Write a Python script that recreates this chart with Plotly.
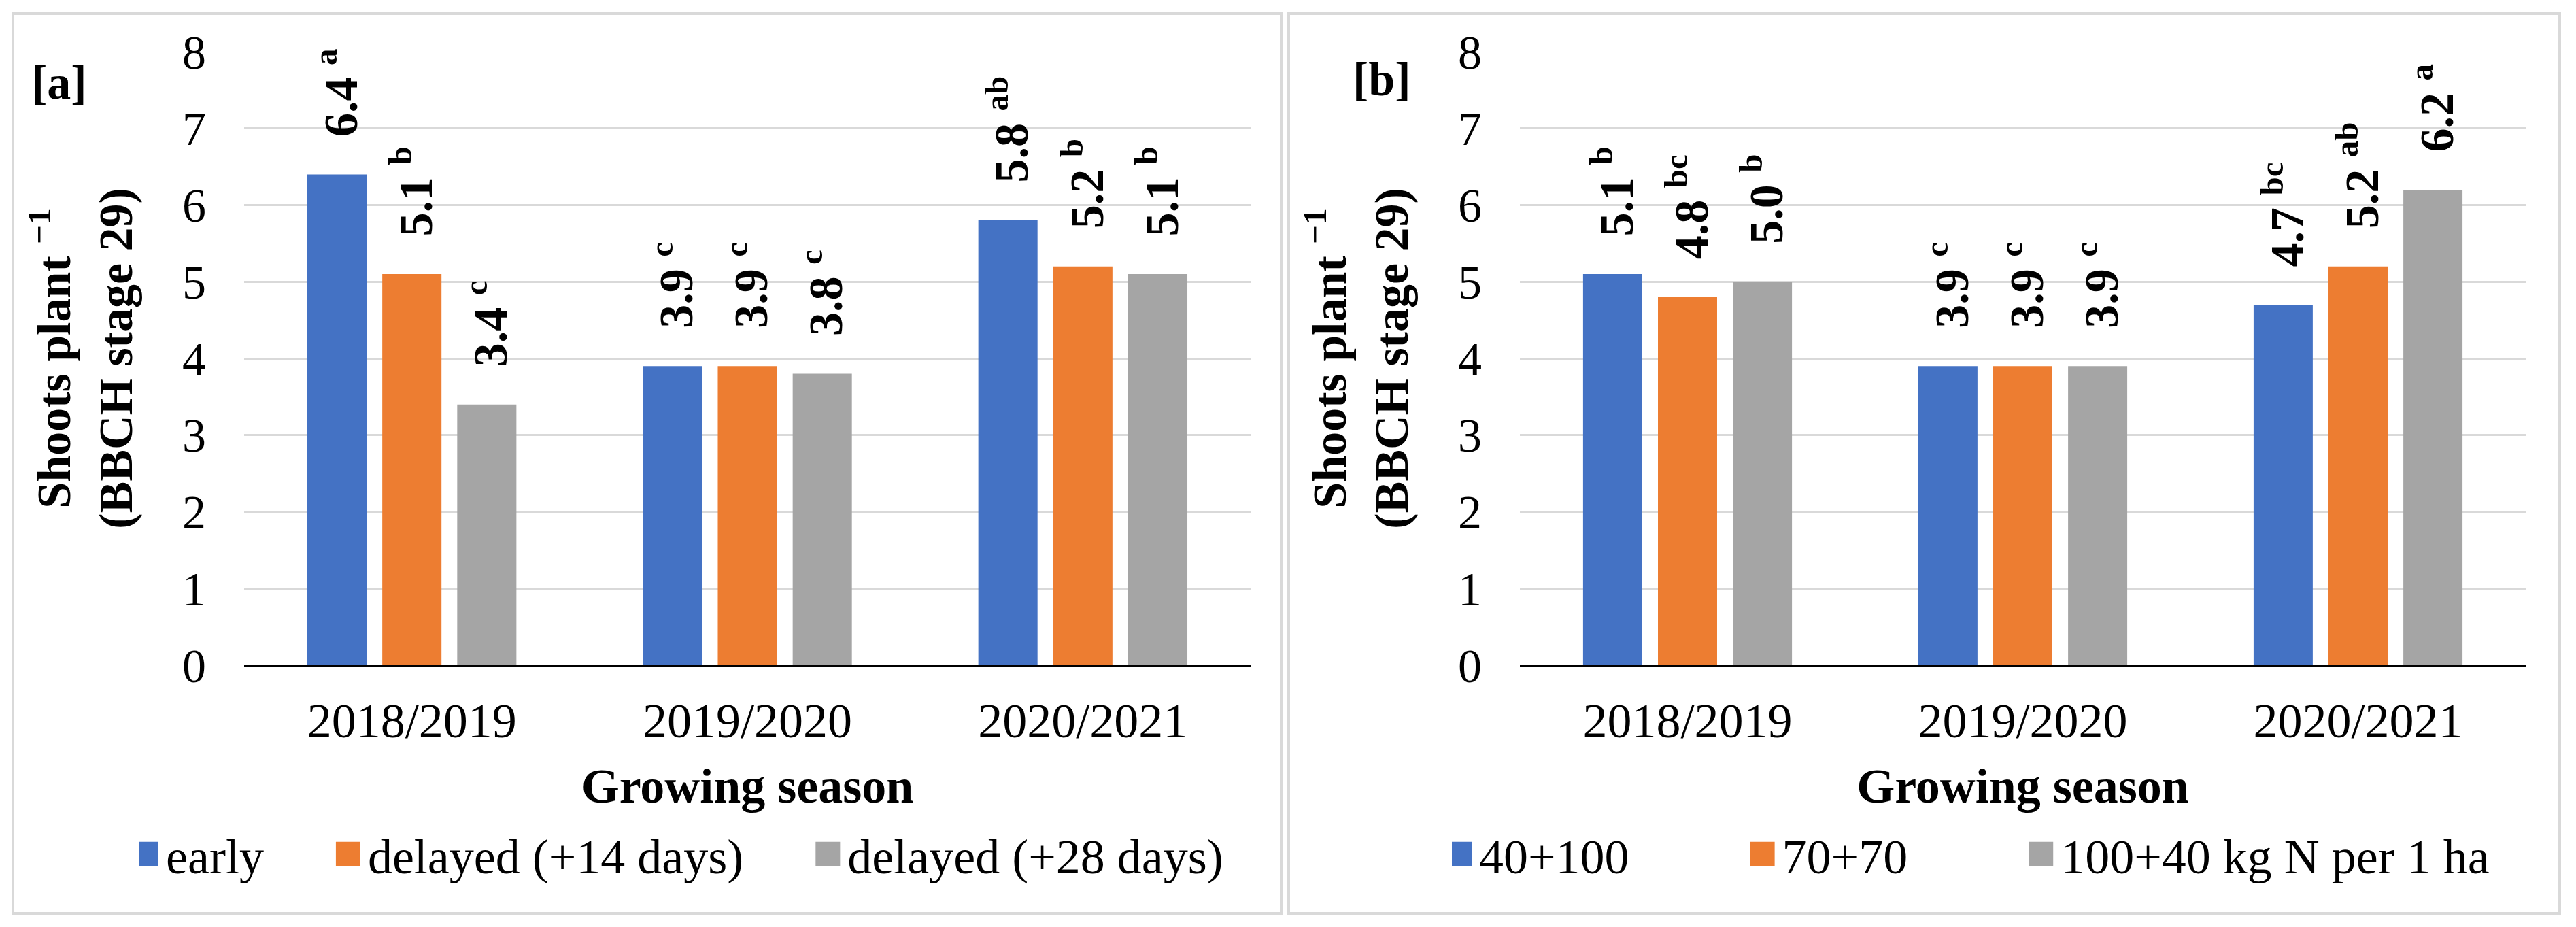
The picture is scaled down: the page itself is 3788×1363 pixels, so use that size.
import plotly.graph_objects as go

# ---------------- data ----------------
seasons = ["2018/2019", "2019/2020", "2020/2021"]
y_ticks = [0, 1, 2, 3, 4, 5, 6, 7, 8]

a_names = ["early", "delayed (+14 days)", "delayed (+28 days)"]
a_early = [6.4, 3.9, 5.8]
a_d14 = [5.1, 3.9, 5.2]
a_d28 = [3.4, 3.8, 5.1]
a_early_let = ["a", "c", "ab"]
a_d14_let = ["b", "c", "b"]
a_d28_let = ["c", "c", "b"]

b_names = ["40+100", "70+70", "100+40 kg N per 1 ha"]
b_40 = [5.1, 3.9, 4.7]
b_70 = [4.8, 3.9, 5.2]
b_100 = [5.0, 3.9, 6.2]
b_40_let = ["b", "c", "bc"]
b_70_let = ["bc", "c", "ab"]
b_100_let = ["b", "c", "a"]

colors = ["#4472C4", "#ED7D31", "#A5A5A5"]

W, H = 3788, 1363
FONT = "Liberation Serif"
NB = "\u00a0"
PAD_A, PAD_B = 6, 10


def labels(vals, lets):
    return [f"{NB*3}<b>{v:.1f} <sup>{l}</sup></b>" for v, l in zip(vals, lets)]


def legend_name(names, i, pad):
    # spacing between legend entries (not after the last one)
    return names[i] + (NB * pad if i < len(names) - 1 else "")


fig = go.Figure()

panel_a = [(a_early, a_early_let), (a_d14, a_d14_let), (a_d28, a_d28_let)]
panel_b = [(b_40, b_40_let), (b_70, b_70_let), (b_100, b_100_let)]

for i, (vals, lets) in enumerate(panel_a):
    fig.add_bar(x=seasons, y=vals, name=legend_name(a_names, i, PAD_A), marker_color=colors[i],
                text=labels(vals, lets), textposition="outside", textangle=-90,
                textfont=dict(family=FONT, size=70, color="black"),
                cliponaxis=False, constraintext="none",
                xaxis="x", yaxis="y", legend="legend")
for i, (vals, lets) in enumerate(panel_b):
    fig.add_bar(x=seasons, y=vals, name=legend_name(b_names, i, PAD_B), marker_color=colors[i],
                text=labels(vals, lets), textposition="outside", textangle=-90,
                textfont=dict(family=FONT, size=70, color="black"),
                cliponaxis=False, constraintext="none",
                xaxis="x2", yaxis="y2", legend="legend2")

ydom = [(H - 978) / H, (H - 76) / H]
ytitle = "<b>Shoots plant <sup>−1</sup></b><br><b>(BBCH stage 29)</b>"

common_x = dict(showline=True, linecolor="black", linewidth=3, ticks="",
                showgrid=False, tickfont=dict(family=FONT, size=72, color="black"),
                ticklabelstandoff=17, automargin=False,
                title=dict(text="<b>Growing season</b>", font=dict(family=FONT, size=72, color="black"),
                           standoff=31))
common_y = dict(range=[0, 8], tickvals=y_ticks, showline=False, showgrid=True,
                gridcolor="#D9D9D9", gridwidth=3, zeroline=False, ticks="",
                tickfont=dict(family=FONT, size=70, color="black"),
                ticklabelstandoff=55, automargin=False,
                title=dict(text=ytitle, font=dict(family=FONT, size=70, color="black"),
                           standoff=50))

fig.update_layout(
    width=W, height=H,
    template="none",
    paper_bgcolor="white", plot_bgcolor="white",
    margin=dict(l=0, r=0, t=0, b=0),
    barmode="group", bargap=0.33, bargroupgap=0.21,
    font=dict(family=FONT, color="black"),
    xaxis=dict(domain=[359 / W, 1839 / W], anchor="y", **common_x),
    yaxis=dict(domain=ydom, anchor="x", **common_y),
    xaxis2=dict(domain=[2235 / W, 3714 / W], anchor="y2", **common_x),
    yaxis2=dict(domain=ydom, anchor="x2", **common_y),
    legend=dict(orientation="h", x=204 / W, y=1 - 1256 / H, xanchor="left", yanchor="middle",
                font=dict(family=FONT, size=72, color="black"), bgcolor="rgba(0,0,0,0)"),
    legend2=dict(orientation="h", x=2135 / W, y=1 - 1256 / H, xanchor="left", yanchor="middle",
                 font=dict(family=FONT, size=72, color="black"), bgcolor="rgba(0,0,0,0)"),
    shapes=[
        dict(type="rect", xref="paper", yref="paper", x0=19 / W, x1=1884 / W,
             y0=1 - 1343 / H, y1=1 - 20 / H, line=dict(color="#D9D9D9", width=4)),
        dict(type="rect", xref="paper", yref="paper", x0=1895 / W, x1=3764 / W,
             y0=1 - 1343 / H, y1=1 - 20 / H, line=dict(color="#D9D9D9", width=4)),
    ],
    annotations=[
        dict(text="<b>[a]</b>", xref="paper", yref="paper", x=87 / W, y=1 - 122 / H,
             xanchor="center", yanchor="middle",
             showarrow=False, font=dict(family=FONT, size=70, color="black")),
        dict(text="<b>[b]</b>", xref="paper", yref="paper", x=2032 / W, y=1 - 116 / H,
             xanchor="center", yanchor="middle",
             showarrow=False, font=dict(family=FONT, size=70, color="black")),
    ],
)

# enlarge the legend colour squares (cosmetic only, after render)
post = (
    "document.body.style.margin='0';document.body.style.overflow='hidden';"
    "var st=document.createElement('style');"
    "st.textContent=\"g.legendpoints path{d:path('M9,18H-27V-18H9Z') !important;}\";"
    "document.head.appendChild(st);"
)

fig.write_html("out.html", config={"displayModeBar": False}, post_script=post)
